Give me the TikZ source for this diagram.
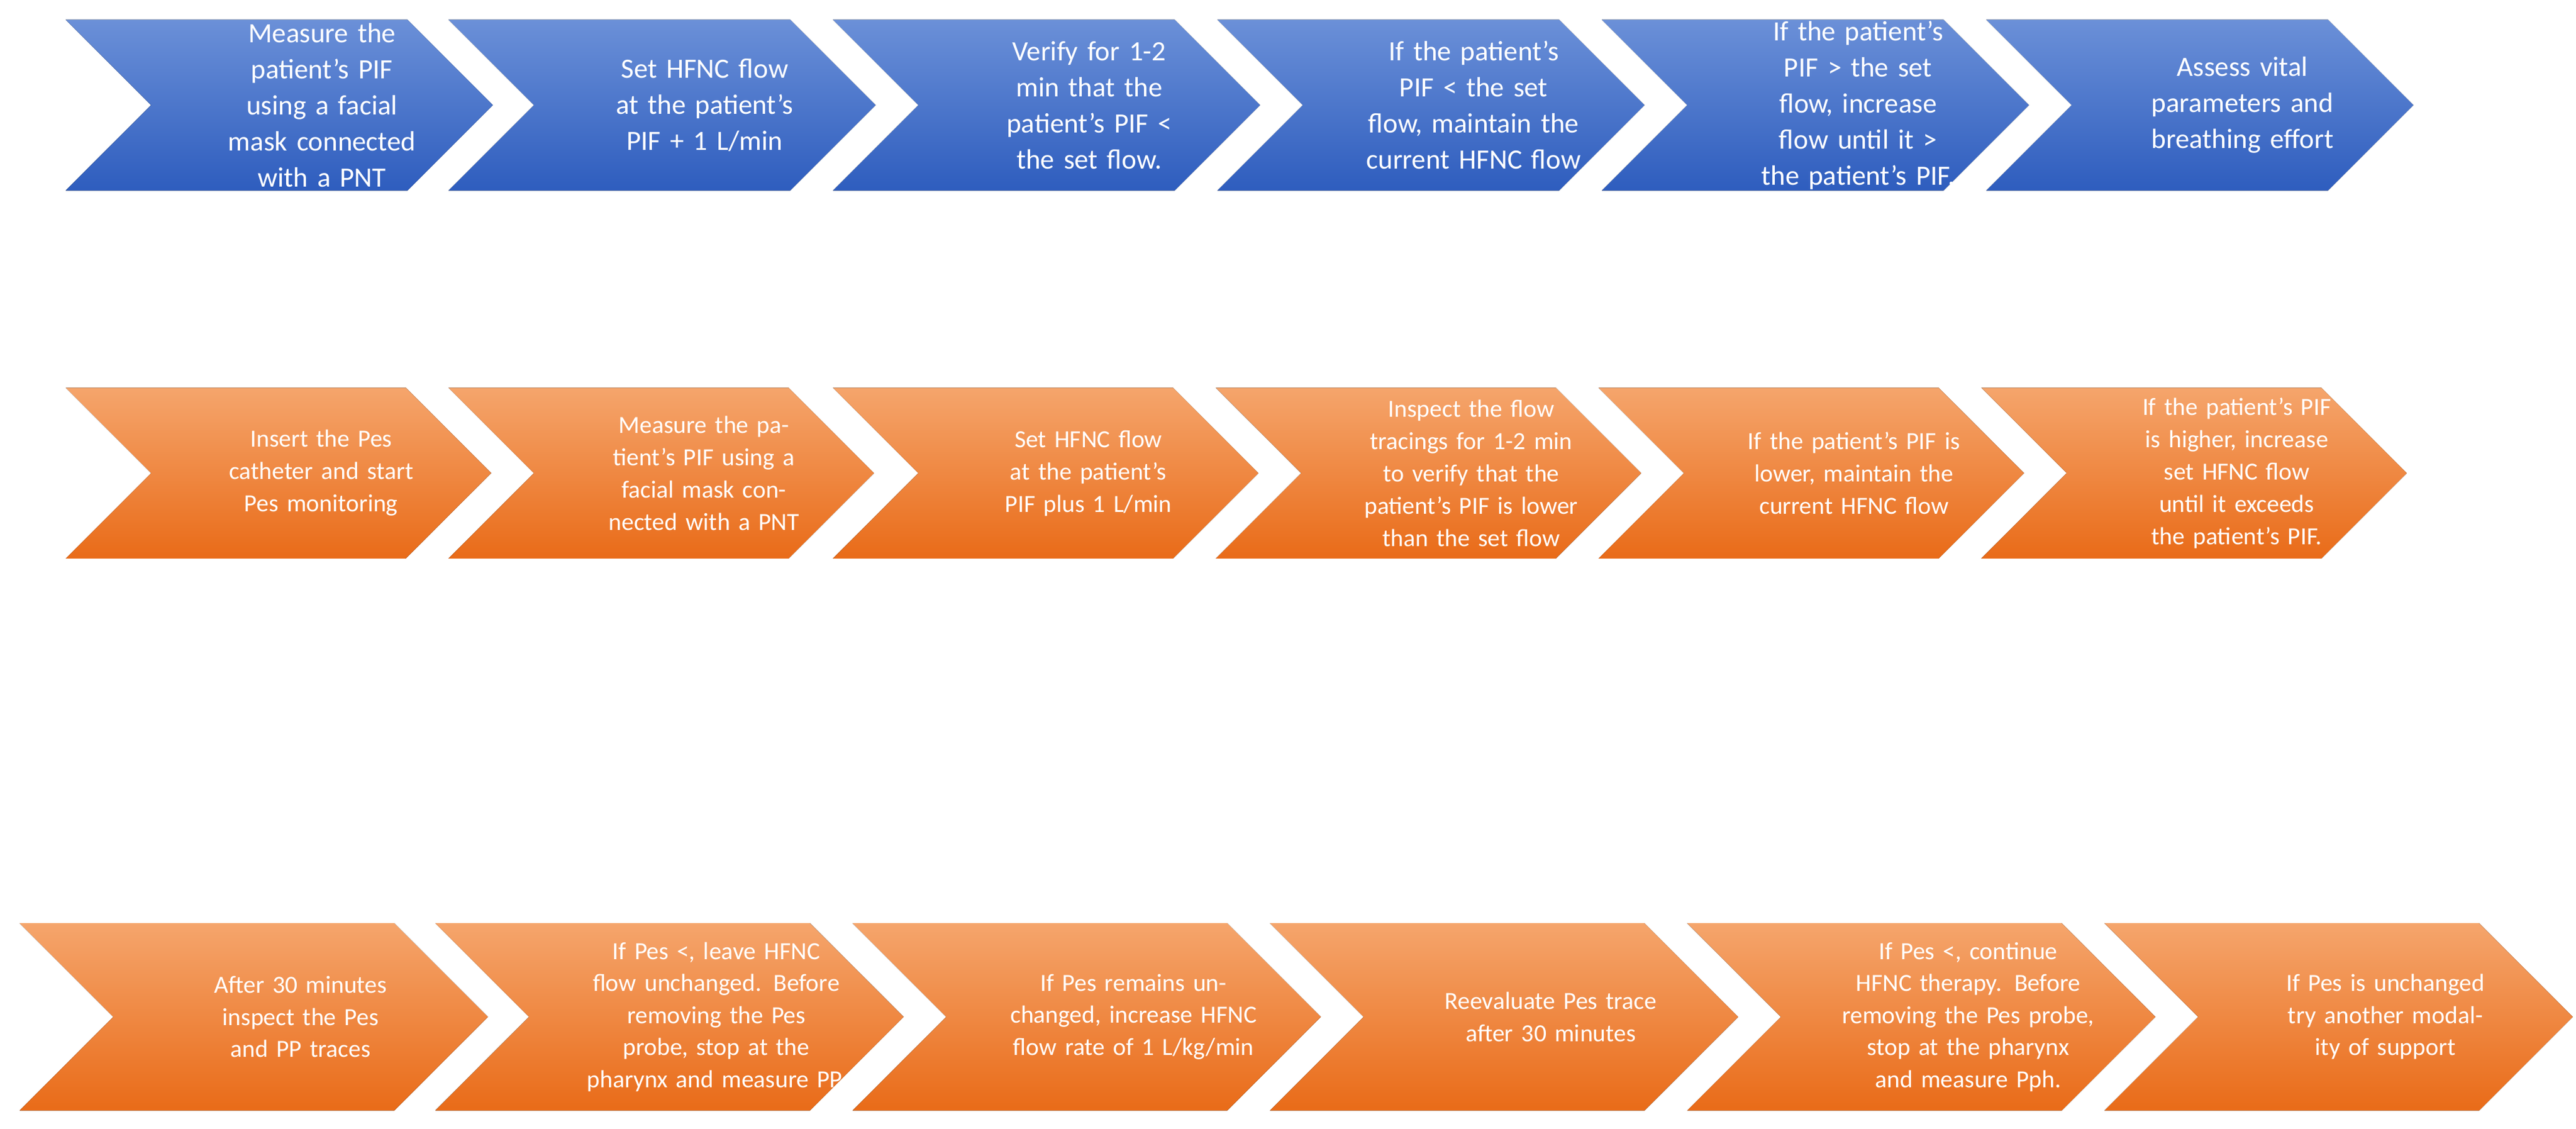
\documentclass[tikz,border=0pt]{standalone}
\usepackage{fontspec}
\setmainfont{Carlito}
\usetikzlibrary{positioning}

\definecolor{bluetop}{HTML}{6B90D8}
\definecolor{bluebot}{HTML}{2E5DBE}
\definecolor{orgtop}{HTML}{F5A56C}
\definecolor{orgbot}{HTML}{E96B18}
\tikzset{
  bluestep/.style={top color=bluetop, bottom color=bluebot, draw=none},
  orangestep/.style={top color=orgtop, bottom color=orgbot, draw=none},
  steptext/.style={text=white, align=center, inner sep=0pt}
}

% chevron: name, left x, top y, width, height, depth, style, text width, text
\newcommand{\chevron}[9]{%
  \fill[#7] (#2,#3) -- ++(#4-#6,0) -- ++(#6,#5/2) -- ++(-#6,#5/2)
    -- ++(-#4+#6,0) -- ++(#6,-#5/2) -- cycle;
  \node[steptext, text width=#8] (#1) at (#2+#4/2+#6/2,#3+#5/2) {#9};
}

\begin{document}
\begin{tikzpicture}[x=1pt, y=-1pt]
  \useasboundingbox (0,0) rectangle (1568,687);

  % row 1
  \begin{scope}[font=\fontsize{17}{22}\selectfont]
  \chevron{b1}{40}{12}{260}{104}{52}{bluestep}{125pt}{Measure the patient's PIF using a facial mask connected with a PNT}
  \chevron{b2}{273}{12}{260}{104}{52}{bluestep}{140pt}{Set HFNC flow at the patient's PIF + 1 L/min}
  \chevron{b3}{507}{12}{260}{104}{52}{bluestep}{125pt}{Verify for 1-2 min that the patient's PIF < the set flow.}
  \chevron{b4}{741}{12}{260}{104}{52}{bluestep}{140pt}{If the patient's PIF < the set flow, maintain the current HFNC flow}
  \chevron{b5}{975}{12}{260}{104}{52}{bluestep}{140pt}{If the patient's PIF > the set flow, increase flow until it > the patient's PIF.}
  \chevron{b6}{1209}{12}{260}{104}{52}{bluestep}{140pt}{Assess vital parameters and breathing effort}
  \end{scope}

  % row 2
  \begin{scope}[font=\fontsize{15}{19.7}\selectfont]
  \chevron{o1}{40}{236}{259}{104}{52}{orangestep}{130pt}{Insert the Pes catheter and start Pes monitoring}
  \chevron{o2}{273}{236}{259}{104}{52}{orangestep}{135pt}{Measure the patient's PIF using a facial mask connected with a PNT}
  \chevron{o3}{507}{236}{259}{104}{52}{orangestep}{130pt}{Set HFNC flow at the patient's PIF plus 1 L/min}
  \chevron{o4}{740}{236}{259}{104}{52}{orangestep}{140pt}{Inspect the flow tracings for 1-2 min to verify that the patient's PIF is lower than the set flow}
  \chevron{o5}{973}{236}{259}{104}{52}{orangestep}{140pt}{If the patient's PIF is lower, maintain the current HFNC flow}
  \chevron{o6}{1206}{236}{259}{104}{52}{orangestep}{140pt}{If the patient's PIF is higher, increase set HFNC flow until it exceeds the patient's PIF.}
  \end{scope}

  % row 3
  \begin{scope}[font=\fontsize{15}{19.5}\selectfont]
  \chevron{p1}{12}{562}{285}{114}{57}{orangestep}{140pt}{After 30 minutes inspect the Pes and PP traces}
  \chevron{p2}{265}{562}{285}{114}{57}{orangestep}{160pt}{If Pes <, leave HFNC flow unchanged. Before removing the Pes probe, stop at the pharynx and measure PP.}
  \chevron{p3}{519}{562}{285}{114}{57}{orangestep}{150pt}{If Pes remains unchanged, increase HFNC flow rate of 1 L/kg/min}
  \chevron{p4}{773}{562}{285}{114}{57}{orangestep}{150pt}{Reevaluate Pes trace after 30 minutes}
  \chevron{p5}{1027}{562}{285}{114}{57}{orangestep}{160pt}{If Pes <, continue HFNC therapy. Before removing the Pes probe, stop at the pharynx and measure Pph.}
  \chevron{p6}{1281}{562}{285}{114}{57}{orangestep}{150pt}{If Pes is unchanged try another modality of support}
  \end{scope}
\end{tikzpicture}
\end{document}
